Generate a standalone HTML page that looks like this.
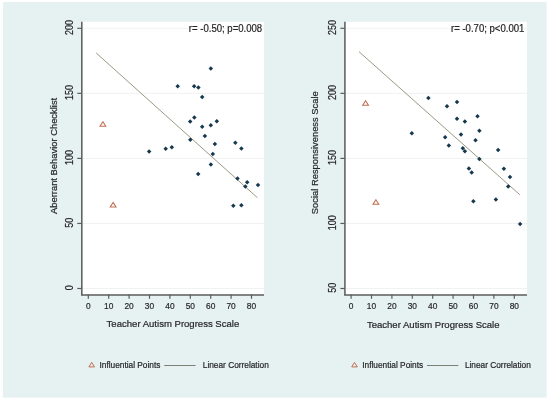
<!DOCTYPE html>
<html><head><meta charset="utf-8"><style>
html,body{margin:0;padding:0;background:#fff;width:550px;height:401px;overflow:hidden}
svg{display:block;font-family:"Liberation Sans", sans-serif;will-change:transform} text{stroke:#262626;stroke-width:0.2px}
</style></head><body>
<svg width="550" height="401" viewBox="0 0 550 401">
<rect x="3" y="2" width="543.7" height="395.6" fill="#E6F1F2"/>
<rect x="82.5" y="21.8" width="181.5" height="272.7" fill="#fff"/>
<line x1="82.5" x2="264" y1="28.3" y2="28.3" stroke="#F0F2F2" stroke-width="1"/>
<line x1="82.5" x2="264" y1="93.35" y2="93.35" stroke="#F0F2F2" stroke-width="1"/>
<line x1="82.5" x2="264" y1="158.4" y2="158.4" stroke="#F0F2F2" stroke-width="1"/>
<line x1="82.5" x2="264" y1="223.45" y2="223.45" stroke="#F0F2F2" stroke-width="1"/>
<line x1="82.5" x2="264" y1="288.5" y2="288.5" stroke="#F0F2F2" stroke-width="1"/>
<line x1="81.8" x2="81.8" y1="21.8" y2="295.3" stroke="#5C5C5C" stroke-width="1.5"/>
<line x1="81.1" x2="264" y1="294.95" y2="294.95" stroke="#5C5C5C" stroke-width="1.5"/>
<line x1="77.3" x2="81.8" y1="28.3" y2="28.3" stroke="#5C5C5C" stroke-width="1.2"/>
<text x="-7.505999999999999" y="0" transform="translate(72.89999999999999,27.5) rotate(-90)" font-size="10" textLength="15.012" lengthAdjust="spacingAndGlyphs" fill="#262626">200</text>
<line x1="77.3" x2="81.8" y1="93.35" y2="93.35" stroke="#5C5C5C" stroke-width="1.2"/>
<text x="-7.505999999999999" y="0" transform="translate(72.89999999999999,92.55) rotate(-90)" font-size="10" textLength="15.012" lengthAdjust="spacingAndGlyphs" fill="#262626">150</text>
<line x1="77.3" x2="81.8" y1="158.4" y2="158.4" stroke="#5C5C5C" stroke-width="1.2"/>
<text x="-7.505999999999999" y="0" transform="translate(72.89999999999999,157.6) rotate(-90)" font-size="10" textLength="15.012" lengthAdjust="spacingAndGlyphs" fill="#262626">100</text>
<line x1="77.3" x2="81.8" y1="223.45" y2="223.45" stroke="#5C5C5C" stroke-width="1.2"/>
<text x="-5.004" y="0" transform="translate(72.89999999999999,222.64999999999998) rotate(-90)" font-size="10" textLength="10.008" lengthAdjust="spacingAndGlyphs" fill="#262626">50</text>
<line x1="77.3" x2="81.8" y1="288.5" y2="288.5" stroke="#5C5C5C" stroke-width="1.2"/>
<text x="-2.502" y="0" transform="translate(72.89999999999999,287.7) rotate(-90)" font-size="10" textLength="5.004" lengthAdjust="spacingAndGlyphs" fill="#262626">0</text>
<line x1="88.3" x2="88.3" y1="294.6" y2="298.8" stroke="#5C5C5C" stroke-width="1.2"/>
<text x="85.975" y="308.7" font-size="9.4" textLength="4.650" lengthAdjust="spacingAndGlyphs" fill="#262626">0</text>
<line x1="108.69999999999999" x2="108.69999999999999" y1="294.6" y2="298.8" stroke="#5C5C5C" stroke-width="1.2"/>
<text x="104.050" y="308.7" font-size="9.4" textLength="9.300" lengthAdjust="spacingAndGlyphs" fill="#262626">10</text>
<line x1="129.1" x2="129.1" y1="294.6" y2="298.8" stroke="#5C5C5C" stroke-width="1.2"/>
<text x="124.450" y="308.7" font-size="9.4" textLength="9.300" lengthAdjust="spacingAndGlyphs" fill="#262626">20</text>
<line x1="149.5" x2="149.5" y1="294.6" y2="298.8" stroke="#5C5C5C" stroke-width="1.2"/>
<text x="144.850" y="308.7" font-size="9.4" textLength="9.300" lengthAdjust="spacingAndGlyphs" fill="#262626">30</text>
<line x1="169.89999999999998" x2="169.89999999999998" y1="294.6" y2="298.8" stroke="#5C5C5C" stroke-width="1.2"/>
<text x="165.250" y="308.7" font-size="9.4" textLength="9.300" lengthAdjust="spacingAndGlyphs" fill="#262626">40</text>
<line x1="190.3" x2="190.3" y1="294.6" y2="298.8" stroke="#5C5C5C" stroke-width="1.2"/>
<text x="185.650" y="308.7" font-size="9.4" textLength="9.300" lengthAdjust="spacingAndGlyphs" fill="#262626">50</text>
<line x1="210.7" x2="210.7" y1="294.6" y2="298.8" stroke="#5C5C5C" stroke-width="1.2"/>
<text x="206.050" y="308.7" font-size="9.4" textLength="9.300" lengthAdjust="spacingAndGlyphs" fill="#262626">60</text>
<line x1="231.09999999999997" x2="231.09999999999997" y1="294.6" y2="298.8" stroke="#5C5C5C" stroke-width="1.2"/>
<text x="226.450" y="308.7" font-size="9.4" textLength="9.300" lengthAdjust="spacingAndGlyphs" fill="#262626">70</text>
<line x1="251.5" x2="251.5" y1="294.6" y2="298.8" stroke="#5C5C5C" stroke-width="1.2"/>
<text x="246.850" y="308.7" font-size="9.4" textLength="9.300" lengthAdjust="spacingAndGlyphs" fill="#262626">80</text>
<text x="106.6" y="326.6" text-anchor="start" font-size="9.55" fill="#262626">Teacher Autism Progress Scale</text>
<text x="0" y="0" transform="translate(56.6,214.0) rotate(-90)" text-anchor="start" font-size="9.4" fill="#262626">Aberrant Behavior Checklist</text>
<text x="188.79999999999998" y="31.8" text-anchor="start" font-size="10" textLength="73.4" lengthAdjust="spacingAndGlyphs" fill="#262626">r= -0.50; p=0.008</text>
<line x1="96.2" y1="53.0" x2="257.4" y2="197.7" stroke="#9A9884" stroke-width="1.0"/>
<path d="M210.8 66.15L213.05 68.4L210.8 70.65L208.55 68.4Z" fill="#15384D"/>
<path d="M177.7 83.95L179.95 86.2L177.7 88.45L175.45 86.2Z" fill="#15384D"/>
<path d="M194.1 83.95L196.35 86.2L194.1 88.45L191.85 86.2Z" fill="#15384D"/>
<path d="M198.4 85.15L200.65 87.4L198.4 89.65L196.15 87.4Z" fill="#15384D"/>
<path d="M202.2 94.65L204.45 96.9L202.2 99.15L199.95 96.9Z" fill="#15384D"/>
<path d="M194.3 115.25L196.55 117.5L194.3 119.75L192.05 117.5Z" fill="#15384D"/>
<path d="M190.2 119.15L192.45 121.4L190.2 123.65L187.95 121.4Z" fill="#15384D"/>
<path d="M216.8 118.95L219.05 121.2L216.8 123.45L214.55 121.2Z" fill="#15384D"/>
<path d="M202.2 124.55L204.45 126.8L202.2 129.05L199.95 126.8Z" fill="#15384D"/>
<path d="M210.8 123.05L213.05 125.3L210.8 127.55L208.55 125.3Z" fill="#15384D"/>
<path d="M204.9 133.65L207.15 135.9L204.9 138.15L202.65 135.9Z" fill="#15384D"/>
<path d="M190.3 137.55L192.55 139.8L190.3 142.05L188.05 139.8Z" fill="#15384D"/>
<path d="M214.9 141.75L217.15 144.0L214.9 146.25L212.65 144.0Z" fill="#15384D"/>
<path d="M235.3 140.45L237.55 142.7L235.3 144.95L233.05 142.7Z" fill="#15384D"/>
<path d="M241.4 146.25L243.65 148.5L241.4 150.75L239.15 148.5Z" fill="#15384D"/>
<path d="M212.8 151.75L215.05 154.0L212.8 156.25L210.55 154.0Z" fill="#15384D"/>
<path d="M210.9 162.35L213.15 164.6L210.9 166.85L208.65 164.6Z" fill="#15384D"/>
<path d="M198.2 171.65L200.45 173.9L198.2 176.15L195.95 173.9Z" fill="#15384D"/>
<path d="M237.5 176.15L239.75 178.4L237.5 180.65L235.25 178.4Z" fill="#15384D"/>
<path d="M247.2 179.95L249.45 182.2L247.2 184.45L244.95 182.2Z" fill="#15384D"/>
<path d="M245.3 184.25L247.55 186.5L245.3 188.75L243.05 186.5Z" fill="#15384D"/>
<path d="M258.0 182.75L260.25 185.0L258.0 187.25L255.75 185.0Z" fill="#15384D"/>
<path d="M233.3 203.55L235.55 205.8L233.3 208.05L231.05 205.8Z" fill="#15384D"/>
<path d="M241.4 202.95L243.65 205.2L241.4 207.45L239.15 205.2Z" fill="#15384D"/>
<path d="M149.1 149.25L151.35 151.5L149.1 153.75L146.85 151.5Z" fill="#15384D"/>
<path d="M165.7 146.45L167.95 148.7L165.7 150.95L163.45 148.7Z" fill="#15384D"/>
<path d="M171.8 144.95L174.05 147.2L171.8 149.45L169.55 147.2Z" fill="#15384D"/>
<path d="M102.9 121.7L105.80000000000001 126.3L100.0 126.3Z" fill="none" stroke="#C06E52" stroke-width="1.05"/>
<path d="M113.1 202.39999999999998L116.0 207.0L110.19999999999999 207.0Z" fill="none" stroke="#C06E52" stroke-width="1.05"/>
<path d="M91.7 362.4L94.5 366.9L88.9 366.9Z" fill="none" stroke="#C06E52" stroke-width="1"/>
<text x="99.5" y="367.8" font-size="8.3" fill="#262626">Influential Points</text>
<line x1="164.2" x2="195.6" y1="365.5" y2="365.5" stroke="#7C8074" stroke-width="1"/>
<text x="202.8" y="367.8" font-size="8.3" fill="#262626">Linear Correlation</text>
<rect x="345.6" y="21.8" width="181.39999999999998" height="272.7" fill="#fff"/>
<line x1="345.6" x2="527" y1="28.3" y2="28.3" stroke="#F0F2F2" stroke-width="1"/>
<line x1="345.6" x2="527" y1="93.35" y2="93.35" stroke="#F0F2F2" stroke-width="1"/>
<line x1="345.6" x2="527" y1="158.4" y2="158.4" stroke="#F0F2F2" stroke-width="1"/>
<line x1="345.6" x2="527" y1="223.45" y2="223.45" stroke="#F0F2F2" stroke-width="1"/>
<line x1="345.6" x2="527" y1="288.5" y2="288.5" stroke="#F0F2F2" stroke-width="1"/>
<line x1="344.9" x2="344.9" y1="21.8" y2="295.3" stroke="#5C5C5C" stroke-width="1.5"/>
<line x1="344.2" x2="527" y1="294.95" y2="294.95" stroke="#5C5C5C" stroke-width="1.5"/>
<line x1="340.4" x2="344.9" y1="28.3" y2="28.3" stroke="#5C5C5C" stroke-width="1.2"/>
<text x="-7.505999999999999" y="0" transform="translate(336.0,27.5) rotate(-90)" font-size="10" textLength="15.012" lengthAdjust="spacingAndGlyphs" fill="#262626">250</text>
<line x1="340.4" x2="344.9" y1="93.35" y2="93.35" stroke="#5C5C5C" stroke-width="1.2"/>
<text x="-7.505999999999999" y="0" transform="translate(336.0,92.55) rotate(-90)" font-size="10" textLength="15.012" lengthAdjust="spacingAndGlyphs" fill="#262626">200</text>
<line x1="340.4" x2="344.9" y1="158.4" y2="158.4" stroke="#5C5C5C" stroke-width="1.2"/>
<text x="-7.505999999999999" y="0" transform="translate(336.0,157.6) rotate(-90)" font-size="10" textLength="15.012" lengthAdjust="spacingAndGlyphs" fill="#262626">150</text>
<line x1="340.4" x2="344.9" y1="223.45" y2="223.45" stroke="#5C5C5C" stroke-width="1.2"/>
<text x="-7.505999999999999" y="0" transform="translate(336.0,222.64999999999998) rotate(-90)" font-size="10" textLength="15.012" lengthAdjust="spacingAndGlyphs" fill="#262626">100</text>
<line x1="340.4" x2="344.9" y1="288.5" y2="288.5" stroke="#5C5C5C" stroke-width="1.2"/>
<text x="-5.004" y="0" transform="translate(336.0,287.7) rotate(-90)" font-size="10" textLength="10.008" lengthAdjust="spacingAndGlyphs" fill="#262626">50</text>
<line x1="351.1" x2="351.1" y1="294.6" y2="298.8" stroke="#5C5C5C" stroke-width="1.2"/>
<text x="348.775" y="308.7" font-size="9.4" textLength="4.650" lengthAdjust="spacingAndGlyphs" fill="#262626">0</text>
<line x1="371.5" x2="371.5" y1="294.6" y2="298.8" stroke="#5C5C5C" stroke-width="1.2"/>
<text x="366.850" y="308.7" font-size="9.4" textLength="9.300" lengthAdjust="spacingAndGlyphs" fill="#262626">10</text>
<line x1="391.90000000000003" x2="391.90000000000003" y1="294.6" y2="298.8" stroke="#5C5C5C" stroke-width="1.2"/>
<text x="387.250" y="308.7" font-size="9.4" textLength="9.300" lengthAdjust="spacingAndGlyphs" fill="#262626">20</text>
<line x1="412.3" x2="412.3" y1="294.6" y2="298.8" stroke="#5C5C5C" stroke-width="1.2"/>
<text x="407.650" y="308.7" font-size="9.4" textLength="9.300" lengthAdjust="spacingAndGlyphs" fill="#262626">30</text>
<line x1="432.70000000000005" x2="432.70000000000005" y1="294.6" y2="298.8" stroke="#5C5C5C" stroke-width="1.2"/>
<text x="428.050" y="308.7" font-size="9.4" textLength="9.300" lengthAdjust="spacingAndGlyphs" fill="#262626">40</text>
<line x1="453.1" x2="453.1" y1="294.6" y2="298.8" stroke="#5C5C5C" stroke-width="1.2"/>
<text x="448.450" y="308.7" font-size="9.4" textLength="9.300" lengthAdjust="spacingAndGlyphs" fill="#262626">50</text>
<line x1="473.5" x2="473.5" y1="294.6" y2="298.8" stroke="#5C5C5C" stroke-width="1.2"/>
<text x="468.850" y="308.7" font-size="9.4" textLength="9.300" lengthAdjust="spacingAndGlyphs" fill="#262626">60</text>
<line x1="493.9" x2="493.9" y1="294.6" y2="298.8" stroke="#5C5C5C" stroke-width="1.2"/>
<text x="489.250" y="308.7" font-size="9.4" textLength="9.300" lengthAdjust="spacingAndGlyphs" fill="#262626">70</text>
<line x1="514.3" x2="514.3" y1="294.6" y2="298.8" stroke="#5C5C5C" stroke-width="1.2"/>
<text x="509.650" y="308.7" font-size="9.4" textLength="9.300" lengthAdjust="spacingAndGlyphs" fill="#262626">80</text>
<text x="366.9" y="328.0" text-anchor="start" font-size="9.55" fill="#262626">Teacher Autism Progress Scale</text>
<text x="0" y="0" transform="translate(317.9,214.2) rotate(-90)" text-anchor="start" font-size="9.4" fill="#262626">Social Responsiveness Scale</text>
<text x="451.0" y="31.8" text-anchor="start" font-size="10" textLength="73.4" lengthAdjust="spacingAndGlyphs" fill="#262626">r= -0.70; p&lt;0.001</text>
<line x1="359.0" y1="51.7" x2="519.8" y2="194.7" stroke="#9A9884" stroke-width="1.0"/>
<path d="M428.4 95.85L430.65 98.1L428.4 100.35L426.15 98.1Z" fill="#15384D"/>
<path d="M447.0 103.95L449.25 106.2L447.0 108.45L444.75 106.2Z" fill="#15384D"/>
<path d="M457.0 99.85L459.25 102.1L457.0 104.35L454.75 102.1Z" fill="#15384D"/>
<path d="M457.0 116.45L459.25 118.7L457.0 120.95L454.75 118.7Z" fill="#15384D"/>
<path d="M411.8 130.95L414.05 133.2L411.8 135.45L409.55 133.2Z" fill="#15384D"/>
<path d="M464.9 119.15L467.15 121.4L464.9 123.65L462.65 121.4Z" fill="#15384D"/>
<path d="M477.5 113.95L479.75 116.2L477.5 118.45L475.25 116.2Z" fill="#15384D"/>
<path d="M479.4 128.45L481.65 130.7L479.4 132.95L477.15 130.7Z" fill="#15384D"/>
<path d="M461.0 132.35L463.25 134.6L461.0 136.85L458.75 134.6Z" fill="#15384D"/>
<path d="M445.1 135.05L447.35 137.3L445.1 139.55L442.85 137.3Z" fill="#15384D"/>
<path d="M475.5 137.95L477.75 140.2L475.5 142.45L473.25 140.2Z" fill="#15384D"/>
<path d="M448.8 143.15L451.05 145.4L448.8 147.65L446.55 145.4Z" fill="#15384D"/>
<path d="M462.8 146.05L465.05 148.3L462.8 150.55L460.55 148.3Z" fill="#15384D"/>
<path d="M464.9 148.95L467.15 151.2L464.9 153.45L462.65 151.2Z" fill="#15384D"/>
<path d="M498.1 147.75L500.35 150.0L498.1 152.25L495.85 150.0Z" fill="#15384D"/>
<path d="M479.4 156.85L481.65 159.1L479.4 161.35L477.15 159.1Z" fill="#15384D"/>
<path d="M468.9 166.15L471.15 168.4L468.9 170.65L466.65 168.4Z" fill="#15384D"/>
<path d="M471.7 170.25L473.95 172.5L471.7 174.75L469.45 172.5Z" fill="#15384D"/>
<path d="M503.9 166.45L506.15 168.7L503.9 170.95L501.65 168.7Z" fill="#15384D"/>
<path d="M510.0 174.75L512.25 177.0L510.0 179.25L507.75 177.0Z" fill="#15384D"/>
<path d="M508.2 184.15L510.45 186.4L508.2 188.65L505.95 186.4Z" fill="#15384D"/>
<path d="M473.4 198.95L475.65 201.2L473.4 203.45L471.15 201.2Z" fill="#15384D"/>
<path d="M495.9 197.15L498.15 199.4L495.9 201.65L493.65 199.4Z" fill="#15384D"/>
<path d="M520.1 221.85L522.35 224.1L520.1 226.35L517.85 224.1Z" fill="#15384D"/>
<path d="M365.6 100.7L368.5 105.3L362.70000000000005 105.3Z" fill="none" stroke="#C06E52" stroke-width="1.05"/>
<path d="M375.9 199.7L378.79999999999995 204.3L373.0 204.3Z" fill="none" stroke="#C06E52" stroke-width="1.05"/>
<path d="M354.5 362.4L357.3 366.9L351.70000000000005 366.9Z" fill="none" stroke="#C06E52" stroke-width="1"/>
<text x="362.3" y="367.8" font-size="8.3" fill="#262626">Influential Points</text>
<line x1="427.0" x2="458.4" y1="365.5" y2="365.5" stroke="#7C8074" stroke-width="1"/>
<text x="464.90000000000003" y="367.8" font-size="8.3" fill="#262626">Linear Correlation</text>
</svg>
</body></html>
